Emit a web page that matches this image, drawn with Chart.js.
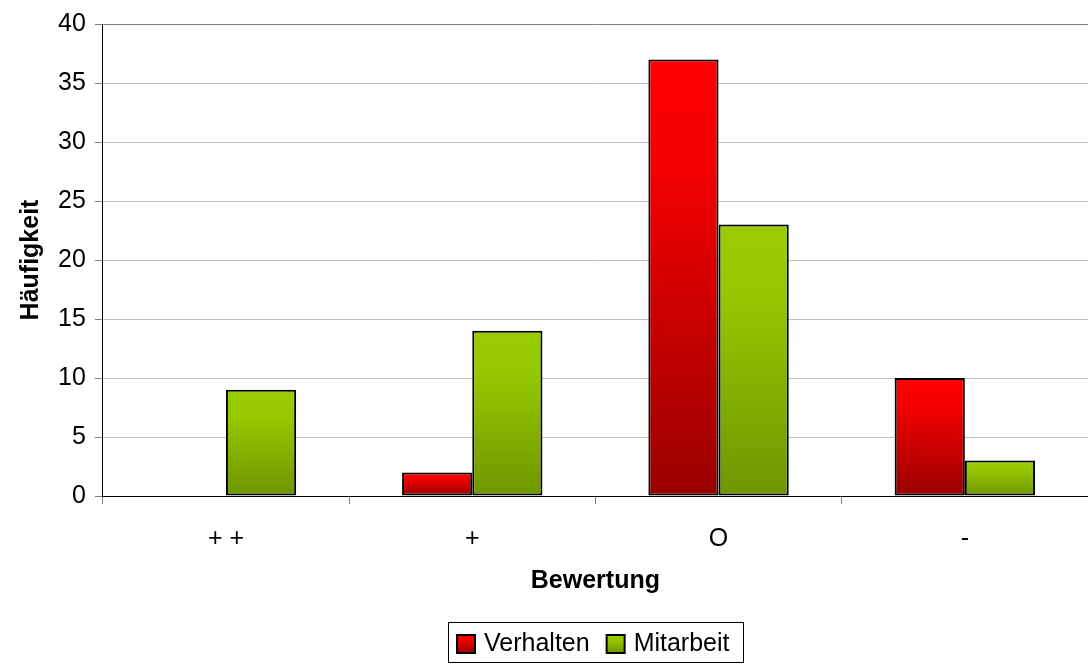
<!DOCTYPE html>
<html>
<head>
<meta charset="utf-8">
<script src="https://cdn.jsdelivr.net/npm/chart.js@4/dist/chart.umd.min.js"></script>
<style>
  html, body { margin: 0; padding: 0; background: #fff; }
  #wrap { width: 1088px; height: 664px; }
</style>
</head>
<body>
<div id="wrap"><canvas id="chart"></canvas></div>
<script>
// Data
const categories = ['+ +', '+', 'O', '-'];
const verhalten = [0, 2, 37, 10];
const mitarbeit = [9, 14, 23, 3];
const seriesNames = ['Verhalten', 'Mitarbeit'];

// colours of the bar gradients, top to bottom
const redStops = ['#ff0000', '#f40000', '#990000'];
const greenStops = ['#99cc00', '#96c800', '#6e9600'];

const FONT = '"Liberation Sans", Arial, sans-serif';
Chart.defaults.font.family = FONT;
Chart.defaults.color = '#000';

function fillGradient(ctx, stops, top, bottom) {
    const g = ctx.createLinearGradient(0, top, 0, Math.max(bottom, top + 1));
    g.addColorStop(0, stops[0]);
    g.addColorStop(0.25, stops[1]);
    g.addColorStop(1, stops[2]);
    return g;
}

// gradient running over the height of each bar
function barGradient(stops) {
    return (c) => {
        const y = c.chart.scales.y;
        if (c.type !== 'data' || !y || y.top === undefined) return stops[0];
        return fillGradient(c.chart.ctx, stops, y.getPixelForValue(c.raw), y.getPixelForValue(0));
    };
}

// framed legend under the plot, centred on the plot area
const framedLegend = {
    id: 'framedLegend',
    afterDraw(chart) {
        const ctx = chart.ctx;
        const area = chart.chartArea;
        const stops = [redStops, greenStops];
        ctx.save();
        ctx.font = '25px ' + FONT;
        const widths = chart.data.datasets.map(ds => ctx.measureText(ds.label).width);
        const sq = 18, padL = 9, padR = 13, gapTxt = 9, gapItem = 17;
        const total = padL + widths.reduce((s, w) => s + sq + gapTxt + w, 0) + gapItem * (widths.length - 1) + padR;
        const midY = 643;
        let x = Math.round((area.left + area.right) / 2 - total / 2);
        ctx.strokeStyle = '#000';
        ctx.lineWidth = 1;
        ctx.strokeRect(x + 0.5, midY - 21 + 0.5, Math.round(total), 40);
        x += padL;
        ctx.textBaseline = 'middle';
        chart.data.datasets.forEach((ds, i) => {
            const top = midY - sq / 2 + 1;
            ctx.fillStyle = fillGradient(ctx, stops[i], top, top + sq);
            ctx.fillRect(x, top, sq, sq);
            ctx.lineWidth = 2;
            ctx.strokeRect(x, top, sq, sq);
            x += sq + gapTxt;
            ctx.fillStyle = '#000';
            ctx.fillText(ds.label, x, midY + 1);
            x += widths[i] + gapItem;
        });
        ctx.restore();
    }
};

new Chart(document.getElementById('chart'), {
    type: 'bar',
    data: {
        labels: categories,
        datasets: [{
            label: seriesNames[0],
            data: verhalten,
            backgroundColor: barGradient(redStops),
            borderColor: '#000',
            borderWidth: 2,
            borderSkipped: false
        }, {
            label: seriesNames[1],
            data: mitarbeit,
            backgroundColor: barGradient(greenStops),
            borderColor: '#000',
            borderWidth: 2,
            borderSkipped: false
        }]
    },
    options: {
        responsive: true,
        maintainAspectRatio: false,
        animation: false,
        devicePixelRatio: 1,
        layout: { padding: { left: 16, right: 0, top: -2, bottom: 66 } },
        datasets: {
            bar: { categoryPercentage: 0.57, barPercentage: 1 }
        },
        scales: {
            x: {
                grid: {
                    offset: true,
                    drawOnChartArea: false,
                    drawTicks: true,
                    tickLength: 8,
                    tickColor: '#808080'
                },
                border: { color: '#000', width: 1 },
                ticks: { font: { size: 25 }, padding: 20 },
                title: {
                    display: true,
                    text: 'Bewertung',
                    font: { size: 25, weight: 'bold' },
                    padding: { top: -8, bottom: 2 }
                }
            },
            y: {
                min: 0,
                max: 40,
                ticks: { stepSize: 5, font: { size: 25 }, padding: 9 },
                grid: {
                    color: (c) => c.tick && c.tick.value === 40 ? '#808080' : '#c0c0c0',
                    tickLength: 8,
                    tickColor: '#808080'
                },
                border: { color: '#000', width: 1 },
                title: {
                    display: true,
                    text: 'Häufigkeit',
                    font: { size: 25, weight: 'bold' },
                    padding: { top: 0, bottom: 3 }
                }
            }
        },
        plugins: {
            legend: { display: false },
            tooltip: { enabled: false }
        }
    },
    plugins: [framedLegend]
});
</script>
</body>
</html>
